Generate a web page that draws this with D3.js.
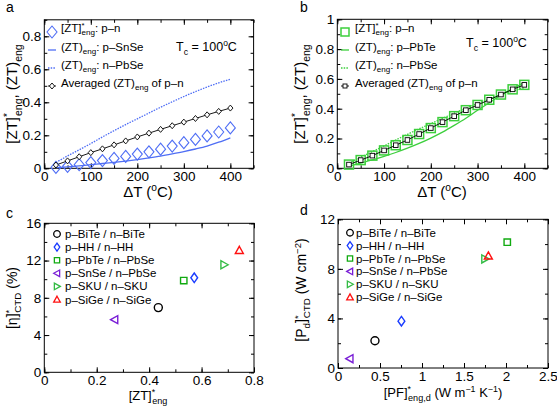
<!DOCTYPE html>
<html><head><meta charset="utf-8">
<script src="https://cdn.jsdelivr.net/npm/d3@7"></script>
<style>
body{margin:0;background:#fff;}
svg{display:block;font-family:"Liberation Sans",Arial,Helvetica,sans-serif;}
</style></head>
<body><svg id="c" width="557" height="406"></svg>
<script>
// ---- data ----
const dT = [25,50,75,100,125,150,175,200,225,250,275,300,325,350,375,400];
// panel a
const aZTpn = [0.005,0.012,0.022,0.035,0.047,0.06,0.072,0.086,0.1,0.116,0.135,0.155,0.175,0.196,0.22,0.245];
const aSnSe = [0.004,0.009,0.015,0.022,0.029,0.036,0.044,0.053,0.063,0.074,0.087,0.101,0.117,0.135,0.158,0.185];
const nPbSe = [0.035,0.075,0.112,0.15,0.19,0.228,0.265,0.30,0.335,0.37,0.403,0.435,0.465,0.493,0.518,0.54];
const aAvg = [0.02,0.045,0.07,0.095,0.118,0.142,0.166,0.19,0.213,0.236,0.258,0.28,0.302,0.324,0.345,0.365];
// panel b
const bZTpn = [0.025,0.055,0.085,0.12,0.155,0.19,0.23,0.27,0.31,0.35,0.39,0.425,0.46,0.495,0.53,0.56];
const bPbTe = [0.015,0.035,0.056,0.08,0.106,0.135,0.167,0.203,0.243,0.288,0.336,0.39,0.44,0.49,0.535,0.575];
const bAvg = [0.025,0.055,0.085,0.12,0.155,0.19,0.23,0.27,0.31,0.35,0.39,0.425,0.46,0.495,0.53,0.56];
// panels c, d
const pairs = ["p\u2013BiTe / n\u2013BiTe","p\u2013HH / n\u2013HH","p\u2013PbTe / n\u2013PbSe","p\u2013SnSe / n\u2013PbSe","p\u2013SKU / n\u2013SKU","p\u2013SiGe / n\u2013SiGe"];
const pairColors = ["#000000","#1a3cff","#11aa11","#7a1fd6","#33bb44","#ff1111"];
const pairShapes = ["circle","diamond","square","left","right","up"];
const cZT = [0.435,0.572,0.532,0.268,0.686,0.744];
const cEta = [6.95,10.15,9.85,5.65,11.55,13.1];
const dPF = [0.44,0.755,2.015,0.14,1.75,1.79];
const dPd = [2.2,3.78,10.15,0.75,8.8,9.05];
const aXticks=[0,100,200,300,400], aYticks=[0,0.2,0.4,0.6,0.8];
const bYticks=[0,0.2,0.4,0.6,0.8,1];
const cXticks=[0,0.2,0.4,0.6,0.8], cYticks=[0,4,8,12,16];
const dXticks=[0,0.5,1,1.5,2,2.5], dYticks=[0,4,8,12];

const svg = d3.select("#c");
const fmt = d => String(+(+d).toFixed(2));

function rich(g, x, y, parts, fs, opts={}) {
  const t = g.append("text").attr("x",x).attr("y",y).attr("font-size",fs)
    .attr("text-anchor",opts.anchor||"start").attr("fill","#000");
  if (opts.rotate) t.attr("transform",`rotate(-90,${x},${y})`);
  let cur = 0;
  parts.forEach(p => {
    const [txt, type, dx] = p;
    let target = 0, size = fs;
    if (type==="sup"){ target=-0.38*fs; size=0.68*fs; }
    if (type==="sub"){ target=0.3*fs; size=0.7*fs; }
    const ts = t.append("tspan").text(txt).attr("dy",target-cur).attr("font-size",size);
    if (dx) ts.attr("dx",dx);
    cur = target;
  });
  return t;
}

function frame(x0,x1,y0,y1, xd, yd, xt, yt, xminor, yminor){
  const g = svg.append("g");
  const x = d3.scaleLinear().domain(xd).range([x0,x1]);
  const y = d3.scaleLinear().domain(yd).range([y1,y0]);
  const mk = (axis, tr, vals, size, lab) => {
    const a = axis.tickValues(vals).tickSizeInner(-size).tickSizeOuter(0).tickPadding(lab?3:0)
      .tickFormat(lab?fmt:"");
    const gg = g.append("g").attr("transform",tr).call(a);
    gg.select(".domain").remove();
    gg.selectAll("text").attr("font-size",13.5).attr("font-family","Liberation Sans, Arial, sans-serif").attr("fill","#000");
    gg.selectAll("line").attr("stroke","#000");
  };
  mk(d3.axisBottom(x), `translate(0,${y1})`, xt, 5, true);
  mk(d3.axisBottom(x), `translate(0,${y1})`, xminor, 3, false);
  mk(d3.axisTop(x), `translate(0,${y0})`, xt, 5, false);
  mk(d3.axisTop(x), `translate(0,${y0})`, xminor, 3, false);
  mk(d3.axisLeft(y), `translate(${x0},0)`, yt, 5, true);
  mk(d3.axisLeft(y), `translate(${x0},0)`, yminor, 3, false);
  mk(d3.axisRight(y), `translate(${x1},0)`, yt, 5, false);
  mk(d3.axisRight(y), `translate(${x1},0)`, yminor, 3, false);
  g.append("rect").attr("x",x0).attr("y",y0).attr("width",x1-x0).attr("height",y1-y0)
    .attr("fill","none").attr("stroke","#000").attr("stroke-width",1);
  return {g,x,y};
}

function shapePath(s, r){
  switch(s){
    case "circle": return d3.symbol(d3.symbolCircle, Math.PI*r*r)();
    case "diamond": return `M0,${-r*1.2}L${r*0.85},0L0,${r*1.2}L${-r*0.85},0Z`;
    case "square": return `M${-r*0.8},${-r*0.8}h${1.6*r}v${1.6*r}h${-1.6*r}Z`;
    case "left": return `M${-r},0L${r*0.8},${-r}L${r*0.8},${r}Z`;
    case "right": return `M${r},0L${-r*0.8},${-r}L${-r*0.8},${r}Z`;
    case "up": return `M0,${-r}L${r},${r*0.8}L${-r},${r*0.8}Z`;
  }
}

// ---------- panel a ----------
{
  const P = frame(44.3,253.6,19.8,168.3,[0,450],[0,0.9],aXticks,aYticks,d3.range(0,451,50),d3.range(0,0.91,0.1));
  const {g,x,y} = P;
  const line = d3.line().x((d,i)=>x(dT[i])).y(d=>y(d)).curve(d3.curveMonotoneX);
  g.append("path").attr("d",line(nPbSe)).attr("fill","none").attr("stroke","#4f6ef5").attr("stroke-width",1.3).attr("stroke-dasharray","1.5,1.2");
  g.append("path").attr("d",line(aSnSe)).attr("fill","none").attr("stroke","#4f6ef5").attr("stroke-width",1.3);
  g.append("path").attr("d",line(aAvg)).attr("fill","none").attr("stroke","#000").attr("stroke-width",0.9);
  g.selectAll(".bd").data(aZTpn).join("path").attr("transform",(d,i)=>`translate(${x(dT[i])},${y(d)})`)
    .attr("d",`M0,-6L5,0L0,6L-5,0Z`).attr("fill","none").attr("stroke","#4f6ef5").attr("stroke-width",1.1);
  g.selectAll(".kd").data(aAvg).join("path").attr("transform",(d,i)=>`translate(${x(dT[i])},${y(d)})`)
    .attr("d",`M0,-3L2.6,0L0,3L-2.6,0Z`).attr("fill","#fff").attr("stroke","#000").attr("stroke-width",0.9);
  // legend
  const lx=52;
  g.append("path").attr("transform",`translate(${lx},32)`).attr("d",`M0,-6L5,0L0,6L-5,0Z`).attr("fill","none").attr("stroke","#4f6ef5").attr("stroke-width",1.1);
  g.append("line").attr("x1",lx-4).attr("x2",lx+4).attr("y1",50).attr("y2",50).attr("stroke","#4f6ef5").attr("stroke-width",1.3);
  g.append("line").attr("x1",lx-4).attr("x2",lx+4).attr("y1",68).attr("y2",68).attr("stroke","#4f6ef5").attr("stroke-width",1.3).attr("stroke-dasharray","1.5,1.2");
  g.append("line").attr("x1",lx-4).attr("x2",lx+4).attr("y1",86).attr("y2",86).attr("stroke","#000").attr("stroke-width",0.9);
  g.append("path").attr("transform",`translate(${lx},86)`).attr("d",`M0,-3L2.6,0L0,3L-2.6,0Z`).attr("fill","#fff").attr("stroke","#000").attr("stroke-width",0.9);
  const fs=11.5, tx=61;
  rich(g,tx,32,[["[ZT]"],["*","sup"],["eng","sub",-3],[": p\u2013n"]],fs);
  rich(g,tx,51,[["(ZT)"],["eng","sub"],[": p\u2013SnSe"]],fs);
  rich(g,tx,69,[["(ZT)"],["eng","sub"],[": n\u2013PbSe"]],fs);
  rich(g,tx,87,[["Averaged (ZT)"],["eng","sub"],[" of p\u2013n"]],fs);
  rich(g,176,51,[["T"],["c","sub"],[" = 100"],["o","sup"],["C"]],12.5);
  rich(g,148,197,[["\u0394T ("],["o","sup"],["C)"]],15,{anchor:"middle"});
  rich(svg,17,94,[["[ZT]"],["*","sup"],["eng","sub",-3],[", (ZT)"],["eng","sub"]],15,{anchor:"middle",rotate:true});
  svg.append("text").attr("x",6).attr("y",12).attr("font-size",14).text("a");
}
// ---------- panel b ----------
{
  const P = frame(337.3,547.7,19.3,168.3,[0,450],[0,1],aXticks,bYticks,d3.range(0,451,50),d3.range(0,1.01,0.1));
  const {g,x,y} = P;
  const line = d3.line().x((d,i)=>x(dT[i])).y(d=>y(d)).curve(d3.curveMonotoneX);
  const gc="#3ccf3c";
  g.append("path").attr("d",line(nPbSe)).attr("fill","none").attr("stroke",gc).attr("stroke-width",1.3).attr("stroke-dasharray","1.5,1.2");
  g.append("path").attr("d",line(bPbTe)).attr("fill","none").attr("stroke",gc).attr("stroke-width",1.3);
  g.selectAll(".gs").data(bZTpn).join("rect").attr("x",(d,i)=>x(dT[i])-4.5).attr("y",d=>y(d)-4.5)
    .attr("width",9).attr("height",9).attr("fill","none").attr("stroke",gc).attr("stroke-width",1.5);
  g.append("path").attr("d",line(bAvg)).attr("fill","none").attr("stroke","#000").attr("stroke-width",0.9);
  g.selectAll(".ks").data(bAvg).join("rect").attr("x",(d,i)=>x(dT[i])-2.3).attr("y",d=>y(d)-2.3)
    .attr("width",4.6).attr("height",4.6).attr("fill","#fff").attr("stroke","#000").attr("stroke-width",0.9);
  const lx=345;
  g.append("rect").attr("x",lx-4).attr("y",28).attr("width",8).attr("height",8).attr("fill","none").attr("stroke",gc).attr("stroke-width",1.5);
  g.append("line").attr("x1",lx-4).attr("x2",lx+4).attr("y1",50).attr("y2",50).attr("stroke",gc).attr("stroke-width",1.3);
  g.append("line").attr("x1",lx-4).attr("x2",lx+4).attr("y1",68).attr("y2",68).attr("stroke",gc).attr("stroke-width",1.3).attr("stroke-dasharray","1.5,1.2");
  g.append("line").attr("x1",lx-4).attr("x2",lx+4).attr("y1",86).attr("y2",86).attr("stroke","#000").attr("stroke-width",0.9);
  g.append("rect").attr("x",lx-2).attr("y",84).attr("width",4).attr("height",4).attr("fill","#fff").attr("stroke","#000").attr("stroke-width",0.9);
  const fs=11.5, tx=355;
  rich(g,tx,32,[["[ZT]"],["*","sup"],["eng","sub",-3],[": p\u2013n"]],fs);
  rich(g,tx,51,[["(ZT)"],["eng","sub"],[": p\u2013PbTe"]],fs);
  rich(g,tx,69,[["(ZT)"],["eng","sub"],[": n\u2013PbSe"]],fs);
  rich(g,tx,87,[["Averaged (ZT)"],["eng","sub"],[" of p\u2013n"]],fs);
  rich(g,466,47,[["T"],["c","sub"],[" = 100"],["o","sup"],["C"]],12.5);
  rich(g,442,197,[["\u0394T ("],["o","sup"],["C)"]],15,{anchor:"middle"});
  rich(svg,305,94,[["[ZT]"],["*","sup"],["eng","sub",-3],[", (ZT)"],["eng","sub"]],15,{anchor:"middle",rotate:true});
  svg.append("text").attr("x",300).attr("y",12).attr("font-size",14).text("b");
}
// ---------- panel c ----------
{
  const P = frame(44.3,254,223.3,372.3,[0,0.8],[0,16],cXticks,cYticks,d3.range(0,0.81,0.1),d3.range(0,16.1,2));
  const {g,x,y} = P;
  g.selectAll(".m").data(cZT).join("path").attr("transform",(d,i)=>`translate(${x(d)},${y(cEta[i])})`)
    .attr("d",(d,i)=>shapePath(pairShapes[i],4)).attr("fill","none").attr("stroke",(d,i)=>pairColors[i]).attr("stroke-width",1.4);
  pairs.forEach((p,i)=>{
    const yy=234+i*13.1;
    g.append("path").attr("transform",`translate(57,${yy})`).attr("d",shapePath(pairShapes[i],3.3)).attr("fill","none").attr("stroke",pairColors[i]).attr("stroke-width",1.3);
    g.append("text").attr("x",65).attr("y",yy+4).attr("font-size",11.5).text(p);
  });
  rich(svg,148,400,[["[ZT]"],["*","sup"],["eng","sub",-3]],13,{anchor:"middle"});
  rich(svg,17,298,[["[\u03B7]"],["*","sup"],["CTD","sub",-3],[" (%)"]],14,{anchor:"middle",rotate:true});
  svg.append("text").attr("x",6).attr("y",218).attr("font-size",14).text("c");
}
// ---------- panel d ----------
{
  const P = frame(338,548,219.3,368,[0,2.5],[0,12],dXticks,dYticks,d3.range(0,2.51,0.25),d3.range(0,12.1,2));
  const {g,x,y} = P;
  g.selectAll(".m").data(dPF).join("path").attr("transform",(d,i)=>`translate(${x(d)},${y(dPd[i])})`)
    .attr("d",(d,i)=>shapePath(pairShapes[i],4)).attr("fill","none").attr("stroke",(d,i)=>pairColors[i]).attr("stroke-width",1.4);
  pairs.forEach((p,i)=>{
    const yy=232.7+i*12.9;
    g.append("path").attr("transform",`translate(350,${yy})`).attr("d",shapePath(pairShapes[i],3.3)).attr("fill","none").attr("stroke",pairColors[i]).attr("stroke-width",1.3);
    g.append("text").attr("x",356).attr("y",yy+4).attr("font-size",11.5).text(p);
  });
  rich(svg,443,397,[["[PF]"],["*","sup"],["eng,d","sub",-3],["  (W m"],["\u22121","sup"],[" K"],["\u22121","sup"],[")"]],13,{anchor:"middle"});
  rich(svg,306,290,[["[P"],["d","sub"],["]"],["*","sup"],["CTD","sub",-3],[" (W cm"],["\u22122","sup"],[")"]],14,{anchor:"middle",rotate:true});
  svg.append("text").attr("x",300).attr("y",215).attr("font-size",14).text("d");
}
</script></body></html>
